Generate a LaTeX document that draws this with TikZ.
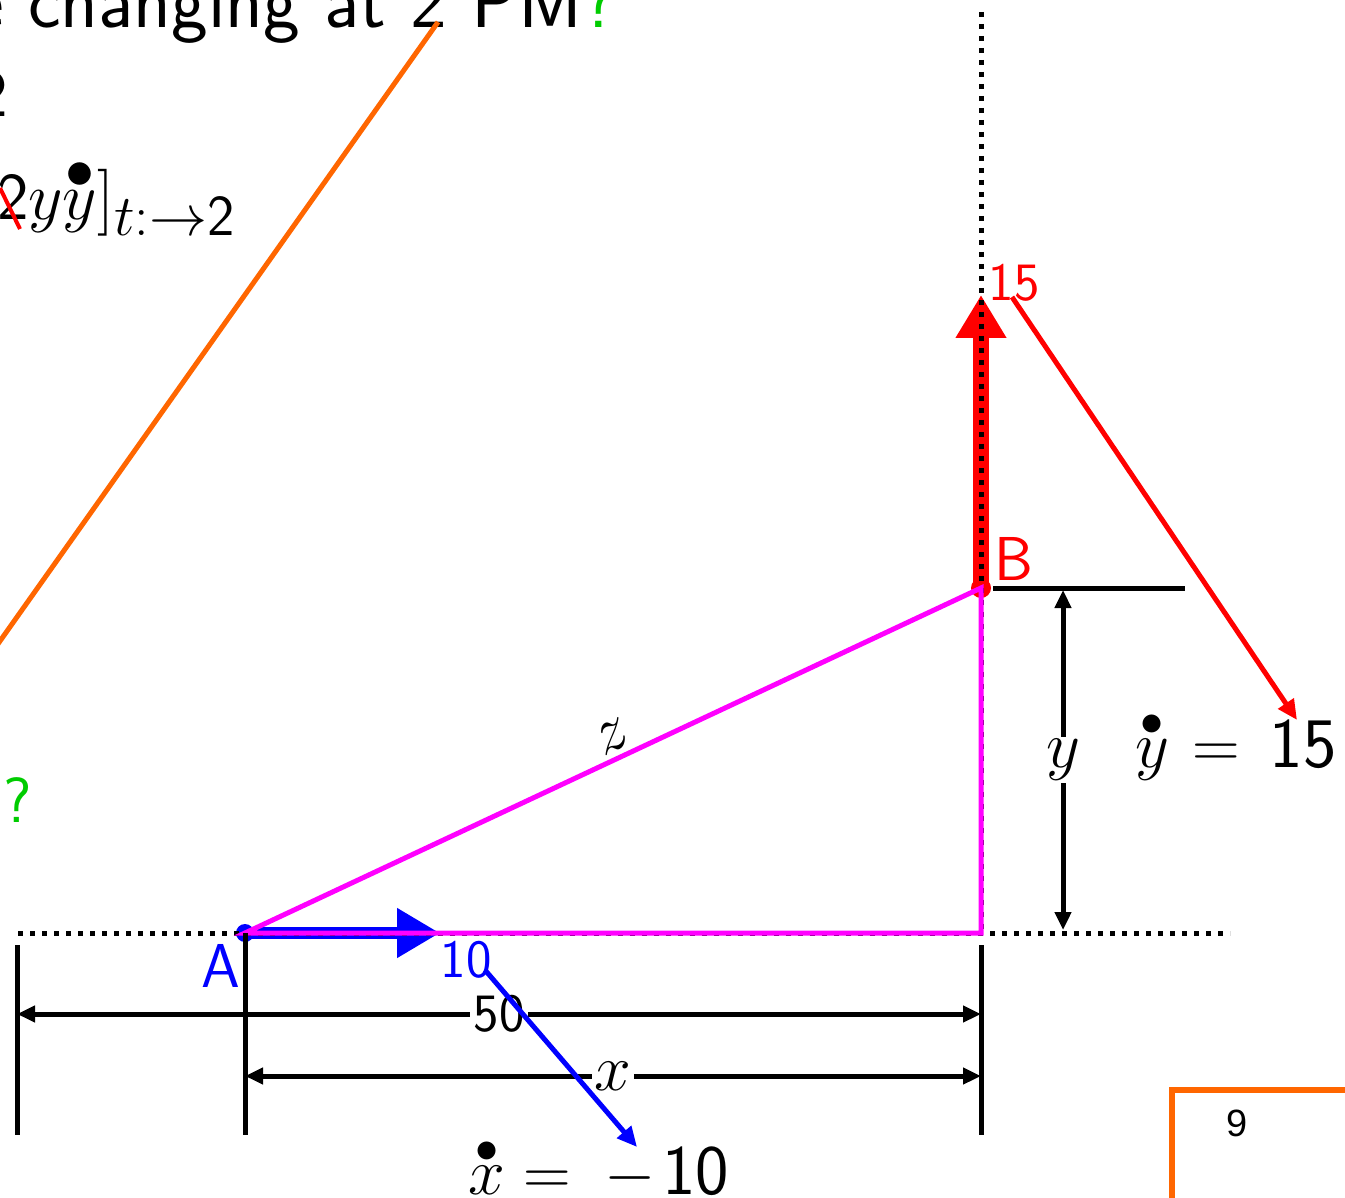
\RequirePackage{fix-cm}
\documentclass[tikz,border=0pt]{standalone}
\usepackage{amsmath}
\usepackage{fontspec}
\newfontfamily\arialf{Liberation Sans}
\usetikzlibrary{arrows.meta}
\definecolor{mygreen}{RGB}{0,204,0}
\definecolor{myorange}{RGB}{255,102,0}
\definecolor{mymagenta}{RGB}{255,0,255}
\definecolor{myred}{RGB}{255,0,0}
\definecolor{myblue}{RGB}{0,0,255}
\DeclareMathSizes{67}{67}{58}{40}
\newcommand{\bd}[1]{\overset{\raisebox{-0.35ex}{$\scriptstyle\bullet$}}{#1}}
\newcommand{\sd}[1]{\textsf{#1}}
\newcommand{\bigsd}[1]{{\fontsize{71}{74}\selectfont\textsf{#1}}}
\begin{document}
\begin{tikzpicture}[x=1pt,y=-1pt,
  mathlbl/.style={font=\fontsize{66}{70}\selectfont, inner sep=1pt},
  mathtop/.style={font=\fontsize{67}{70}\selectfont, inner sep=0pt},
  sanslbl/.style={font=\sffamily\fontsize{54}{58}\selectfont, inner sep=0pt},
  letterlbl/.style={font=\sffamily\fontsize{62}{66}\selectfont, inner sep=0pt},
  thickblk/.style={line width=5pt},
  dotline/.style={line width=5pt, dash pattern=on 5pt off 7pt},
  dimline/.style={line width=5pt, {Triangle[length=18pt,width=16pt]}-{Triangle[length=18pt,width=16pt]}},
  pointer/.style={line width=5pt, -{Triangle[length=20pt,width=18pt]}}
]
\useasboundingbox (0,0) rectangle (1345,1198);
\clip (0,0) rectangle (1345,1198);

% coordinates
\coordinate (A) at (245,933);
\coordinate (B) at (981,588);
\coordinate (C) at (981,933);
\coordinate (Vx) at (440,933);
\coordinate (Vy) at (981,295);
\coordinate (Lh) at (18,933);
\coordinate (Rh) at (1230,933);
\coordinate (Top) at (981,12);

% velocity arrows
\draw[myblue, line width=12pt, -{Triangle[length=43pt,width=47pt]}] (A) -- (Vx);
\draw[myred, line width=16pt, -{Triangle[length=43pt,width=48pt]}] (B) -- (Vy);
\fill[myblue] (A) circle (9);
\fill[myred] (B) circle (10);

% dotted axes
\draw[dotline] (Lh) -- (Rh);
\draw[dotline] (Top) -- (C);

% triangle
\draw[mymagenta, line width=5pt] (A) -- (B) -- (C) -- cycle;
\coordinate (Zl) at (612,737);
\node[rotate=25.1, inner sep=1pt, font=\fontsize{66}{70}\selectfont] (lz) at (Zl) {$z$};

% y dimension
\coordinate (Bh1) at (993,588);
\coordinate (Bh2) at (1185,588);
\draw[thickblk] (Bh1) -- (Bh2);
\coordinate (Yt) at (1063,590);
\coordinate (Yb) at (1063,930);
\draw[dimline] (Yt) -- (Yb) node[midway, fill=white, mathlbl, inner sep=2pt] (ly) {$y$};

% ticks
\coordinate (T1a) at (17,945);  \coordinate (T1b) at (17,1135);
\coordinate (T2b) at (245,1135);
\coordinate (T3a) at (981,945); \coordinate (T3b) at (981,1135);
\draw[thickblk] (T1a) -- (T1b);
\draw[thickblk] (A) -- (T2b);
\draw[thickblk] (T3a) -- (T3b);

% horizontal dimensions
\coordinate (D1a) at (17,1014); \coordinate (D1b) at (981,1014);
\draw[dimline] (D1a) -- (D1b) node[midway, fill=white, sanslbl, inner sep=4pt] (l50) {50};
\coordinate (D2a) at (245,1076); \coordinate (D2b) at (981,1076);
\draw[dimline] (D2a) -- (D2b) node[midway, fill=white, mathlbl, inner sep=3pt] (lx) {$x$};

% labels
\node[letterlbl, myblue] (lA) at (221,966) {A};
\node[letterlbl, myred] (lB) at (1014,559) {B};
\node[sanslbl, myblue] (l10) at (466,960) {10};
\node[sanslbl, myred] (l15) at (1014,283) {15};

% rate equations
\node[mathlbl, anchor=base west, inner sep=0pt] (ydot) at (1135,767) {$\bd{y}\mkern1.5mu=\mkern3mu\bigsd{15}$};
\node[mathlbl, anchor=base west, inner sep=0pt] (xdot) at (468,1194) {$\bd{x}=\mkern4.3mu-\mkern1.6mu\bigsd{10}$};

% pointers
\coordinate (P1a) at (485,970); \coordinate (P1b) at (637,1147);
\draw[myblue, pointer] (P1a) -- (P1b);
\coordinate (P2a) at (1012,297); \coordinate (P2b) at (1297,720);
\draw[myred, pointer] (P2a) -- (P2b);

% top text fragments
\node[font=\sffamily\fontsize{78}{82}\selectfont, anchor=base east, inner sep=0pt] (title) at (617,28) {e changing at 2 PM\textcolor{mygreen}{?}};
\node[mathtop, anchor=base east] (two) at (8,117) {$\sd{2}$};
\node[mathtop, anchor=base east] (eq) at (235,220) {$[\sd{2}y\bd{y}]_{t:\to \sd{2}}$};
\coordinate (Ca) at (0,188); \coordinate (Cb) at (20,229);
\draw[myred, line width=4pt] (Ca) -- (Cb);
\node[font=\sffamily\fontsize{64}{68}\selectfont, inner sep=0pt, mygreen] (q) at (18,800) {?};

% orange annotations
\coordinate (Oa) at (438,22); \coordinate (Ob) at (-12,658);
\draw[myorange, line width=5pt] (Oa) -- (Ob);
\coordinate (Ba) at (1172,1210); \coordinate (Bb) at (1172,1090); \coordinate (Bc) at (1360,1090);
\draw[myorange, line width=6pt] (Ba) -- (Bb) -- (Bc);
\node[font=\arialf\fontsize{38}{40}\selectfont] (pg) at (1237,1123) {9};
\end{tikzpicture}
\end{document}
